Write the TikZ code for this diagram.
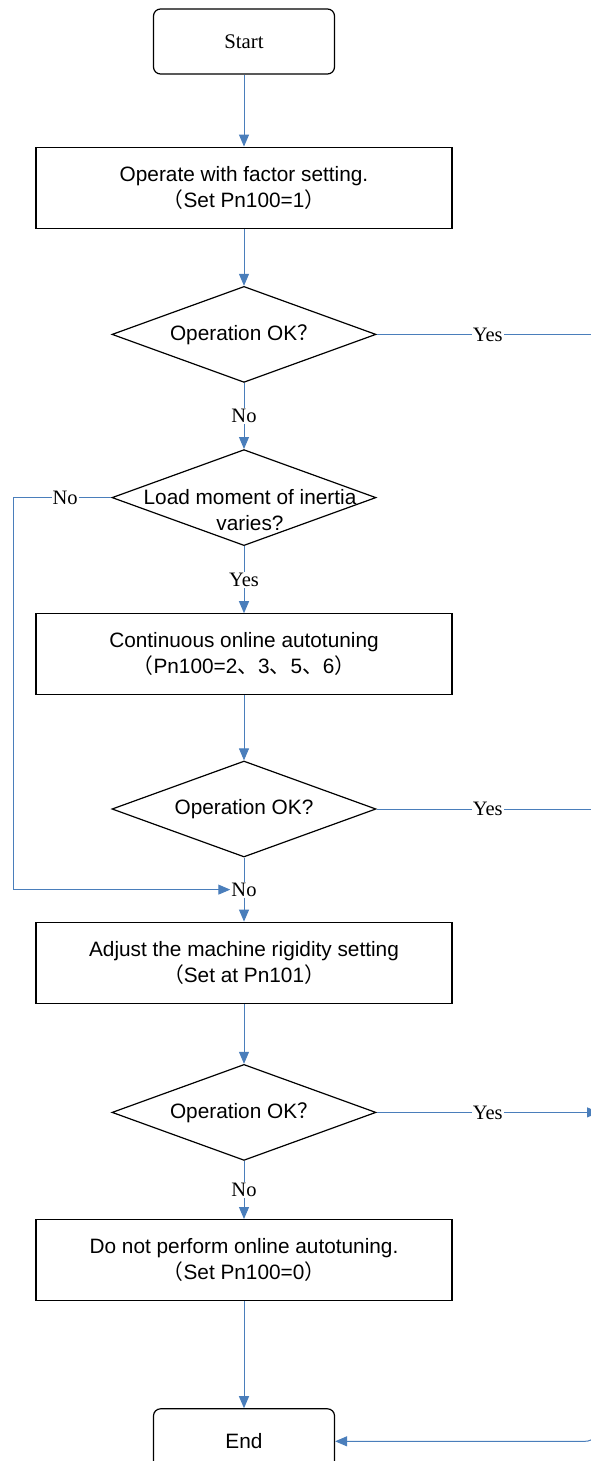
\documentclass[tikz,border=0pt]{standalone}
\usepackage{fontspec}
\setmainfont{Liberation Sans}
\newfontfamily\timesfont{Liberation Serif}
\newfontfamily\cjkfont{Noto Sans CJK SC}
\usetikzlibrary{arrows.meta,positioning,shapes.geometric,calc}
\definecolor{linkblue}{HTML}{4A7EBB}
\newcommand{\fw}[1]{{\cjkfont #1}}
\tikzset{
  terminal/.style={rectangle, rounded corners=7pt, draw=black, line width=1.2pt,
    minimum width=181pt, minimum height=65pt, align=center},
  procbox/.style={rectangle, draw=black, line width=1.2pt,
    minimum width=416pt, minimum height=81pt, align=center, inner sep=2pt},
  decision/.style={diamond, draw=black, line width=1.2pt, shape aspect=2.75,
    minimum width=264pt, minimum height=96pt, inner sep=0pt, align=center},
  answer/.style={font=\timesfont\fontsize{20.5pt}{24pt}\selectfont,
    fill=white, inner sep=1pt},
  link/.style={draw=linkblue, line width=1pt},
  flow/.style={link, -{Triangle[length=12pt, width=10pt]}},
}

\begin{document}
\begin{tikzpicture}[x=1pt, y=1pt, font=\fontsize{20.8pt}{26pt}\selectfont]
  \useasboundingbox (0,0) rectangle (591,-1461);
  \coordinate (rail) at (599,0);
  \coordinate (loop) at (13,0);

  % Main column
  \node[terminal, font=\timesfont\fontsize{20.8pt}{26pt}\selectfont] (start) at (244,-41.5) {Start};
  \node[procbox, below=72pt of start] (box1) {Operate with factor setting.\\\fw{（}Set Pn100=1\fw{）}};
  \node[decision, below=57pt of box1] (d1) {Operation OK\fw{？}};
  \node[decision, below=66pt of d1,
    label={[align=center, xshift=6pt, yshift=-12pt]center:Load moment of inertia\\varies?}] (d2) {};
  \node[procbox, below=67pt of d2] (box2) {Continuous online autotuning\\\fw{（}Pn100=2\fw{、}3\fw{、}5\fw{、}6\fw{）}};
  \node[decision, below=65pt of box2] (d3) {Operation OK?};
  \node[procbox, below=64pt of d3] (box3) {Adjust the machine rigidity setting\\\fw{（}Set at Pn101\fw{）}};
  \node[answer] (no3) at ($(d3.south)!0.5!(box3.north)$) {No};
  \node[decision, below=60pt of box3] (d4) {Operation OK\fw{？}};
  \node[procbox, below=58pt of d4] (box4) {Do not perform online autotuning.\\\fw{（}Set Pn100=0\fw{）}};
  \node[terminal, below=107pt of box4] (endn) {End};
  \coordinate (railtop) at (d1.east -| rail);

  % Straight flow
  \draw[flow] (start) -- (box1);
  \draw[flow] (box1) -- (d1);
  \draw[flow] (d1) -- node[answer] {No} (d2);
  \draw[flow] (d2) -- node[answer] {Yes} (box2);
  \draw[flow] (box2) -- (d3);
  \draw[link] (d3) -- (no3);
  \draw[flow] (no3) -- (box3);
  \draw[flow] (box3) -- (d4);
  \draw[flow] (d4) -- node[answer] {No} (box4);
  \draw[flow] (box4) -- (endn);

  % Yes branches to the right rail
  \draw[link] (d1.east) -- node[answer] {Yes} (railtop);
  \draw[flow, rounded corners=14pt] (railtop) |- (endn.east);
  \draw[link] (d3.east) -- node[answer] {Yes} (d3.east -| rail);
  \draw[flow] (d4.east) -- node[answer] {Yes} (d4.east -| rail);

  % No branch on the left
  \draw[flow] (d2.west) -- node[answer, xshift=3pt] {No} (d2.west -| loop) |- (no3.west);
\end{tikzpicture}
\end{document}
